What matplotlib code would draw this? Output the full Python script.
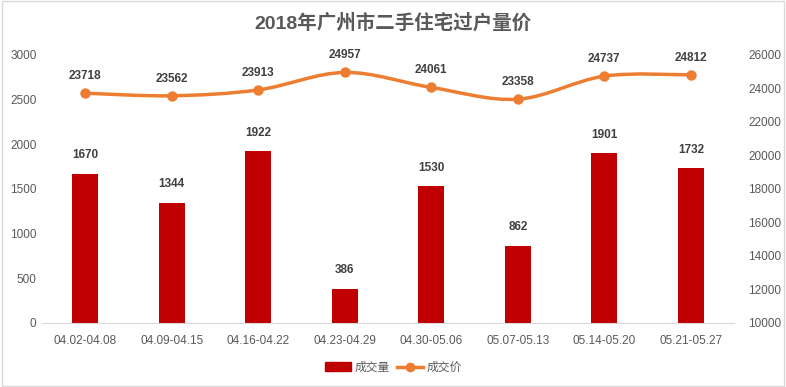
import matplotlib
matplotlib.use("Agg")
import matplotlib.pyplot as plt
from matplotlib.path import Path
from matplotlib.patches import PathPatch, Rectangle
from matplotlib.lines import Line2D
import numpy as np

# Данные графика
weeks = ["04.02-04.08", "04.09-04.15", "04.16-04.22", "04.23-04.29",
         "04.30-05.06", "05.07-05.13", "05.14-05.20", "05.21-05.27"]
volume = [1670, 1344, 1922, 386, 1530, 862, 1901, 1732]
price = [23718, 23562, 23913, 24957, 24061, 23358, 24737, 24812]
left_ticks = [0, 500, 1000, 1500, 2000, 2500, 3000]
right_ticks = [10000, 12000, 14000, 16000, 18000, 20000, 22000, 24000, 26000]

plt.rcParams['font.family'] = ['Liberation Sans', 'Noto Sans CJK SC', 'DejaVu Sans']

BAR_COLOR = "#C00000"
LINE_COLOR = "#ED7D31"
TEXT_COLOR = "#595959"

fig = plt.figure(figsize=(7.86, 3.87), dpi=100)
ax = fig.add_axes([0.0534, 0.1654, 0.8806, 0.6926])
ax2 = ax.twinx()

x = np.arange(len(weeks))
ax.bar(x, volume, width=0.30, color=BAR_COLOR, zorder=2)
for xi, v in zip(x, volume):
    ax.annotate(str(v), (xi, v), xytext=(0, 9), textcoords="offset points",
                ha="center", va="bottom", fontsize=8.5, fontweight="bold", color="#404040")

ax.set_xlim(-0.5, len(weeks) - 0.5)
ax.set_ylim(0, 3000)
ax.set_yticks(left_ticks)
ax.set_xticks(x)
ax.set_xticklabels(weeks)
ax.tick_params(axis="both", length=0, labelsize=8.5, colors=TEXT_COLOR)
ax.tick_params(axis="y", pad=4)
ax.tick_params(axis="x", pad=9)
for s in ["top", "left", "right"]:
    ax.spines[s].set_visible(False)
ax.spines["bottom"].set_color("#D9D9D9")

# сглаженная линия цены (Catmull-Rom -> кривые Безье)
pts = np.column_stack([x, price]).astype(float)
verts = [tuple(pts[0])]
codes = [Path.MOVETO]
n = len(pts)
for i in range(n - 1):
    p0 = pts[max(i - 1, 0)]
    p1 = pts[i]
    p2 = pts[i + 1]
    p3 = pts[min(i + 2, n - 1)]
    c1 = p1 + (p2 - p0) / 6.0
    c2 = p2 - (p3 - p1) / 6.0
    verts += [tuple(c1), tuple(c2), tuple(p2)]
    codes += [Path.CURVE4] * 3
ax2.add_patch(PathPatch(Path(verts, codes), facecolor="none", edgecolor=LINE_COLOR,
                        lw=2.5, capstyle="round", zorder=3))
ax2.plot(x, price, "o", color=LINE_COLOR, markersize=6.5, zorder=4)
for xi, p in zip(x, price):
    ax2.annotate(str(p), (xi, p), xytext=(0, 8), textcoords="offset points",
                 ha="center", va="bottom", fontsize=8.5, fontweight="bold", color="#404040")

ax2.set_ylim(10000, 26000)
ax2.set_yticks(right_ticks)
ax2.tick_params(axis="y", length=0, labelsize=8.5, colors=TEXT_COLOR, pad=10)
for s in ["top", "left", "right", "bottom"]:
    ax2.spines[s].set_visible(False)

fig.text(0.5, 0.94, "2018年广州市二手住宅过户量价", ha="center", va="center",
         fontsize=14, fontweight="bold", color=TEXT_COLOR)

handles = [Rectangle((0, 0), 1, 1, color=BAR_COLOR),
           Line2D([0], [0], color=LINE_COLOR, lw=2.5, marker="o", markersize=6)]
fig.legend(handles, ["成交量", "成交价"], loc="center", bbox_to_anchor=(0.5, 0.05),
           ncol=2, frameon=False, fontsize=8.5, handlelength=2.2, columnspacing=0.6,
           handletextpad=0.3, labelcolor=TEXT_COLOR)

fig.add_artist(Rectangle((0.002, 0.003), 0.996, 0.994, transform=fig.transFigure,
                         fill=False, edgecolor="#D9D9D9", lw=1))

fig.savefig("out.png", dpi=100)
